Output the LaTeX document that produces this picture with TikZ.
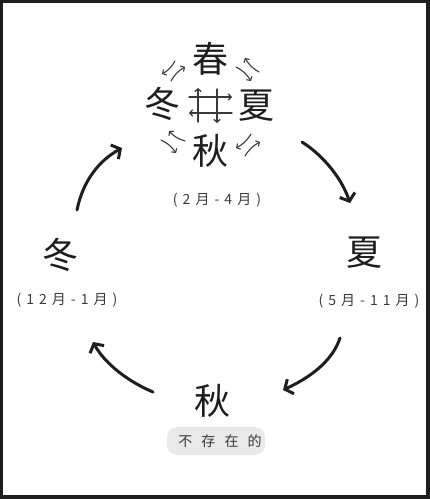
\documentclass[tikz,border=0pt]{standalone}
\usepackage{fontspec}
\usepackage{tikz}
\usetikzlibrary{arrows.meta}
\newfontfamily\cjk{Noto Sans CJK SC}
\newfontfamily\cjkspaced[LetterSpace=36]{Noto Sans CJK SC}
\newfontfamily\cjkwide[LetterSpace=65]{Noto Sans CJK SC}
\definecolor{ink}{HTML}{1E1E1E}
\definecolor{pencil}{HTML}{3A3A3A}
\definecolor{smudge}{HTML}{E9E9E9}

\begin{document}
\begin{tikzpicture}[x=1pt,y=-1pt,
  season/.style={font=\cjk\fontsize{36}{36}\selectfont,text=ink,inner sep=0pt},
  span/.style={font=\cjkspaced\fontsize{14}{14}\selectfont,text=pencil,inner sep=0pt},
  bigarrow/.style={ink,line width=3,line cap=round,-{Straight Barb[length=6.5pt,width=16pt]}},
  tinyarrow/.style={pencil,line width=1.1,line cap=round,-{Straight Barb[length=2.8pt,width=6.5pt]}}]
 \useasboundingbox (0,0) rectangle (430,499);
 \draw[ink,line width=3.4] (1.7,1.5) rectangle (428,497);
 % the four seasons
 \node[season] (spring) at (210,59) {春};
 \node[season] (winterTop) at (162,104) {冬};
 \node[season] (summerTop) at (256,106) {夏};
 \node[season] (autumnTop) at (210,151) {秋};
 \coordinate (core) at (208,105);
 \node[span] (springSpan) at (217,200) {(2月-4月)};
 \node[season] (winter) at (60,255) {冬};
 \node[span] (winterSpan) at (67,300) {(12月-1月)};
 \node[season] (summer) at (364,253) {夏};
 \node[span] (summerSpan) at (369,301) {(5月-11月)};
 \node[season] (autumn) at (212,401) {秋};
 \fill[smudge,rounded corners=10] (167,427) rectangle (265,455);
 \node[font=\cjkwide\fontsize{14}{14}\selectfont,text=pencil,inner sep=0pt] (autumnNote) at (220,441) {不存在的};
 % tiny arrows going round
 \foreach \sx/\sy/\ex/\ey in {175/61/162/74, 171/81/185/67, 259/72/245/58, 236/67/251/81,
                              185/141/169/131, 161/140/176/153, 251/134/236/148, 245/156/260/142}
  \draw[tinyarrow] (\sx,\sy) to[bend left=15] (\ex,\ey);
 % crossed arrows in the middle
 \draw[tinyarrow,line width=1.3] (189,97) -- (232,97);
 \draw[tinyarrow,line width=1.3] (232,113) -- (189,113);
 \draw[tinyarrow,line width=1.3] (198,122) -- (198,88);
 \draw[tinyarrow,line width=1.3] (217,89) -- (217,123);
 % the big cycle
 \coordinate (a1s) at (77,210);  \coordinate (a1e) at (122,148);
 \coordinate (a2s) at (302,142); \coordinate (a2e) at (350,203);
 \coordinate (a3s) at (340,338); \coordinate (a3e) at (283,390);
 \coordinate (a4s) at (153,392); \coordinate (a4e) at (93,342);
 \draw[bigarrow] (a1s) .. controls +(6,-30) and +(-22,12) .. (a1e);
 \draw[bigarrow] (a2s) .. controls +(22,14) and +(-8,-24) .. (a2e);
 \draw[bigarrow] (a3s) .. controls +(-8,24) and +(26,-12) .. (a3e);
 \draw[bigarrow] (a4s) .. controls +(-24,-10) and +(12,22) .. (a4e);
\end{tikzpicture}
\end{document}
